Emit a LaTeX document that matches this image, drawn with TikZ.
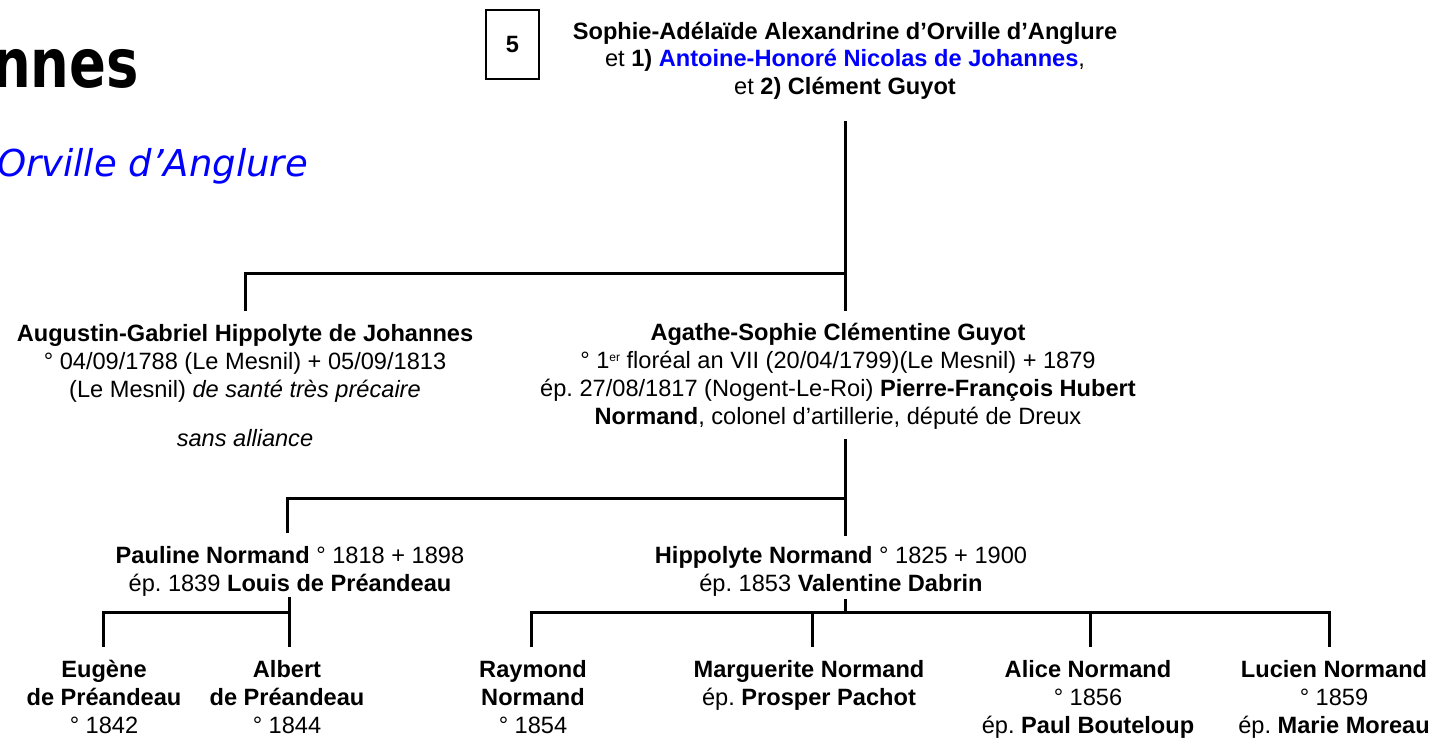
\documentclass[tikz,border=0pt]{standalone}
\usepackage{fontspec}
\setmainfont{Liberation Sans}
\newfontfamily\dejavu{DejaVu Sans}
\definecolor{jblue}{RGB}{0,0,255}
\frenchspacing
\newcommand\blk[1]{\begin{tabular}[t]{@{}c@{}}#1\end{tabular}}
\newcommand\supsm[1]{\raisebox{7pt}{\fontsize{12}{12}\selectfont #1}}
\tikzset{
  lnk/.style={line width=3pt},
  person/.style={inner sep=0pt, anchor=base, font=\fontsize{23.6}{28}\selectfont},
  topperson/.style={inner sep=0pt, anchor=base, font=\fontsize{23.6}{27.5}\selectfont},
  numbox/.style={draw, line width=1.3pt, minimum width=53pt, minimum height=69pt, inner sep=0pt, font=\fontsize{23.6}{28}\selectfont\bfseries},
}
\begin{document}
\begin{tikzpicture}[x=1pt,y=-1pt]
\useasboundingbox (0,0) rectangle (1435,739);
% titles
\node (title) [anchor=base east, inner sep=0pt, xscale=0.8, font=\dejavu\bfseries\fontsize{68}{68}\selectfont] at (139,87) {nnes};
\node (subtitle) [anchor=base east, inner sep=0pt, text=jblue, font=\dejavu\itshape\fontsize{37}{40}\selectfont] at (308,176) {Orville d’Anglure};
% box 5
\node (num) [numbox] at (512.5,44.5) {5};
% people
\node (top) [topperson] at (845,39) {\blk{\textbf{Sophie-Adélaïde Alexandrine d’Orville d’Anglure}\\
  et \textbf{1) \textcolor{jblue}{Antoine-Honoré Nicolas de Johannes}},\\
  et \textbf{2) Clément Guyot}}};
\node (aug) [person] at (245,341) {\blk{\textbf{Augustin-Gabriel Hippolyte de Johannes}\\
  ° 04/09/1788 (Le Mesnil) + 05/09/1813\\
  (Le Mesnil) \textit{de santé très précaire}}};
\node (sans) [person] at (245,446) {\textit{sans alliance}};
\node (aga) [person] at (838,340) {\blk{\textbf{Agathe-Sophie Clémentine Guyot}\\
  ° 1\supsm{er} floréal an VII (20/04/1799)(Le Mesnil) + 1879\\
  ép. 27/08/1817 (Nogent-Le-Roi) \textbf{Pierre-François Hubert}\\
  \textbf{Normand}, colonel d’artillerie, député de Dreux}};
\node (paul) [person] at (290,563) {\blk{\textbf{Pauline Normand} ° 1818 + 1898\\
  ép. 1839 \textbf{Louis de Préandeau}}};
\node (hipp) [person] at (841,563) {\blk{\textbf{Hippolyte Normand} ° 1825 + 1900\\
  ép. 1853 \textbf{Valentine Dabrin}}};
\node (eug) [person] at (104,677) {\blk{\textbf{Eugène}\\ \textbf{de Préandeau}\\ ° 1842}};
\node (alb) [person] at (287,677) {\blk{\textbf{Albert}\\ \textbf{de Préandeau}\\ ° 1844}};
\node (ray) [person] at (533,677) {\blk{\textbf{Raymond}\\ \textbf{Normand}\\ ° 1854}};
\node (marg) [person] at (809,677) {\blk{\textbf{Marguerite Normand}\\ ép. \textbf{Prosper Pachot}}};
\node (alice) [person] at (1088,677) {\blk{\textbf{Alice Normand}\\ ° 1856\\ ép. \textbf{Paul Bouteloup}}};
\node (luc) [person] at (1334,677) {\blk{\textbf{Lucien Normand}\\ ° 1859\\ ép. \textbf{Marie Moreau}}};
% connector points
\coordinate (topB) at (845,121);
\coordinate (agaT) at (845,311);
\coordinate (augT) at (245,311);
\coordinate (g1L) at (245,273);
\coordinate (g1R) at (845,273);
\coordinate (agaB) at (845,439);
\coordinate (hippT) at (845,536);
\coordinate (paulT) at (287,533);
\coordinate (g2L) at (287,498);
\coordinate (g2R) at (845,498);
\coordinate (paulB) at (289,597);
\coordinate (albT) at (289,647);
\coordinate (g3R) at (289,612);
\coordinate (g3L) at (103,612);
\coordinate (eugT) at (103,647);
\coordinate (hippB) at (845,599);
\coordinate (g4M) at (845,612);
\coordinate (g4L) at (531,612);
\coordinate (g4R) at (1329,612);
\coordinate (rayT) at (531,647);
\coordinate (lucT) at (1329,647);
\coordinate (g4a) at (812,612);
\coordinate (margT) at (812,647);
\coordinate (g4b) at (1090,612);
\coordinate (aliceT) at (1090,647);
% connectors
\draw[lnk] (topB) -- (agaT);
\draw[lnk] (augT) -- (g1L) -- (g1R);
\draw[lnk] (agaB) -- (hippT);
\draw[lnk] (paulT) -- (g2L) -- (g2R);
\draw[lnk] (paulB) -- (albT);
\draw[lnk] (eugT) -- (g3L) -- (g3R);
\draw[lnk] (hippB) -- (g4M);
\draw[lnk] (rayT) -- (g4L) -- (g4R) -- (lucT);
\draw[lnk] (g4a) -- (margT);
\draw[lnk] (g4b) -- (aliceT);
\end{tikzpicture}
\end{document}
